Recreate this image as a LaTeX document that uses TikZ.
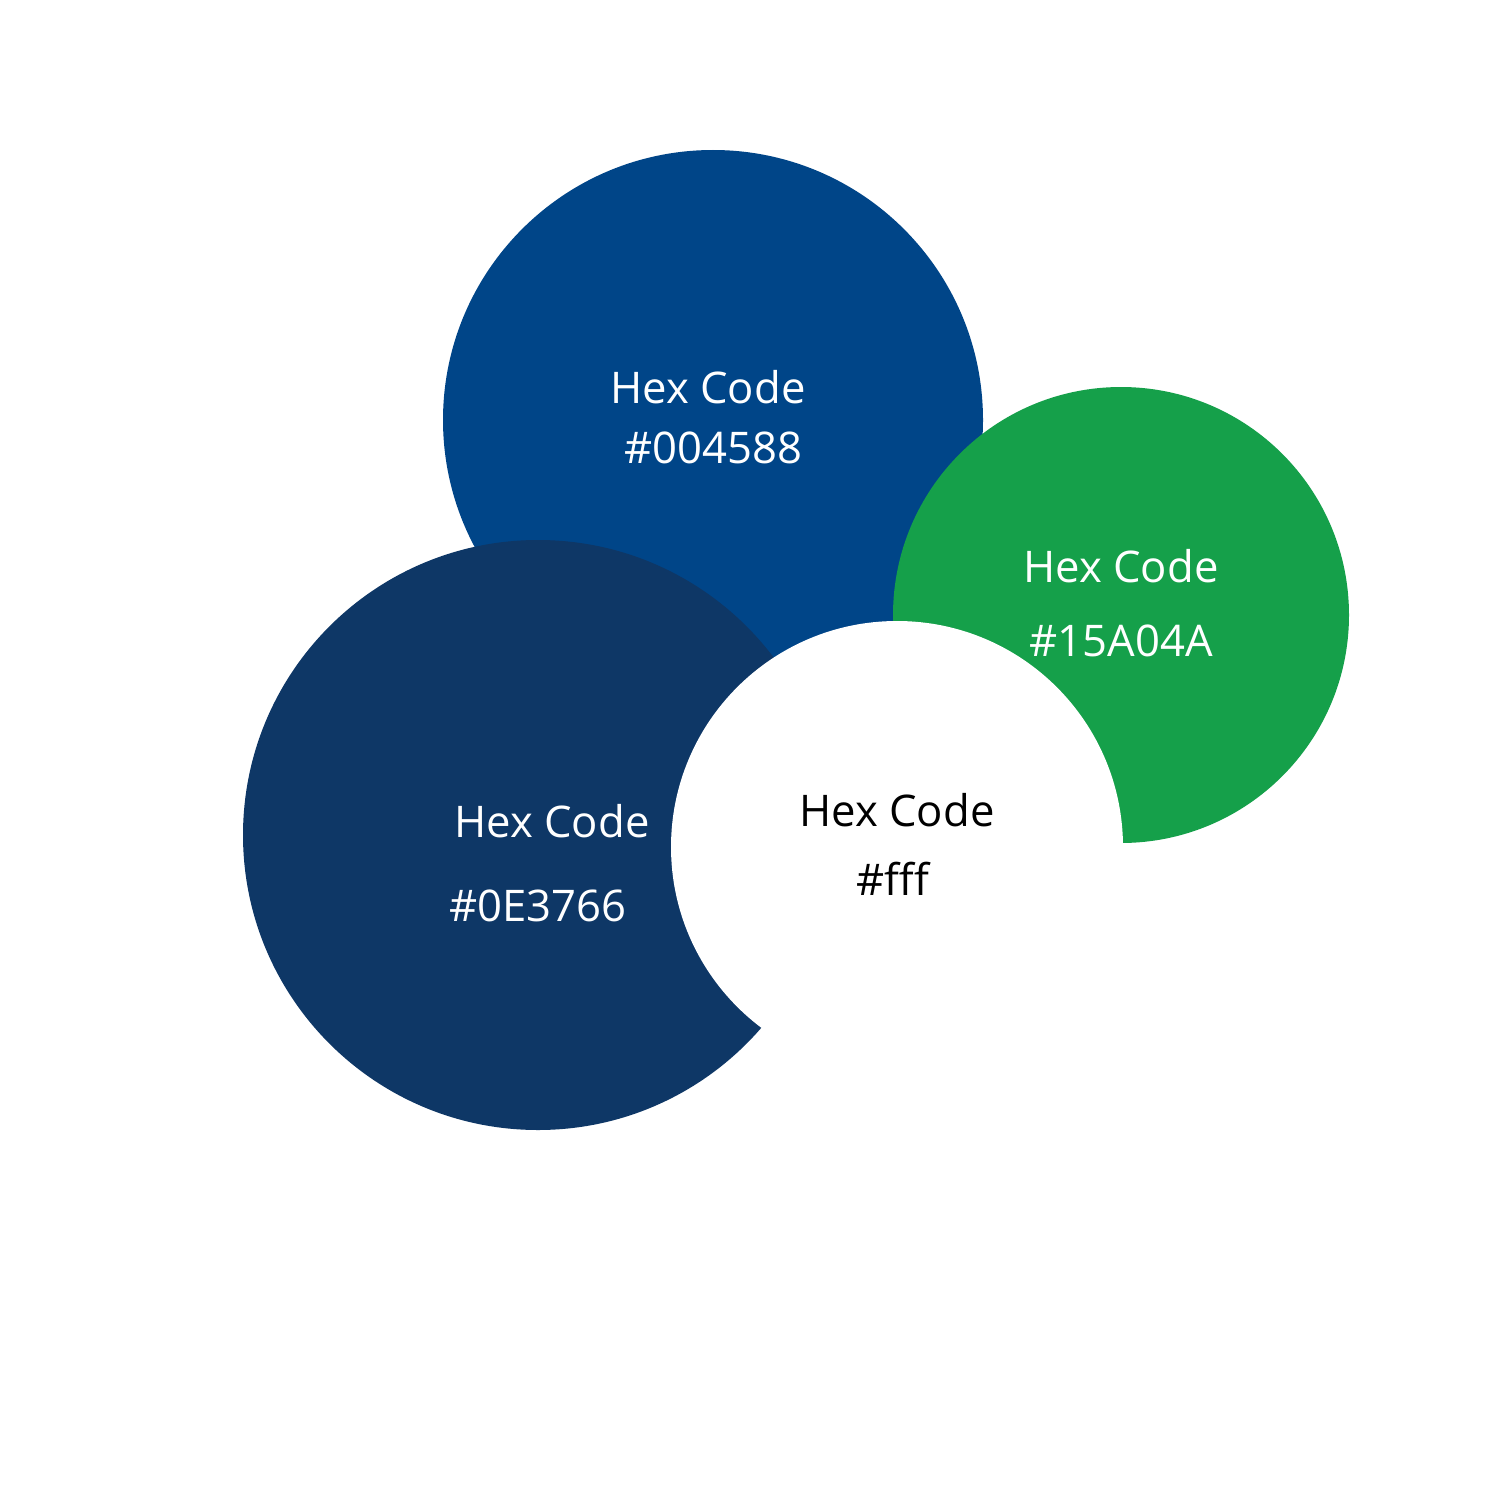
\documentclass[tikz,border=0pt]{standalone}
\usepackage{fontspec}
\setmainfont{Open Sans}
\definecolor{cblue}{HTML}{004588}
\definecolor{cgreen}{HTML}{15A04A}
\definecolor{cdark}{HTML}{0E3766}
\begin{document}
\begin{tikzpicture}[x=0.01cm,y=-0.01cm,
  lbl/.style={anchor=base,inner sep=0pt,font=\fontsize{12.4}{15}\selectfont}]
\useasboundingbox[fill=white] (0,0) rectangle (1500,1500);
\fill[cblue] (713,420) circle[radius=270];
\fill[cgreen] (1121,615) circle[radius=228];
\fill[cdark] (538,835) circle[radius=295];
\fill[white] (897,847) circle[radius=226];
\node[lbl,text=white] (b1) at (708,403) {Hex Code};
\node[lbl,text=white] (b2) at (713,463) {\#004588};
\node[lbl,text=white] (g1) at (1121,582) {Hex Code};
\node[lbl,text=white] (g2) at (1121,656) {\#15A04A};
\node[lbl,text=white] (d1) at (552,837) {Hex Code};
\node[lbl,text=white] (d2) at (538,921) {\#0E3766};
\node[lbl,text=black] (w1) at (897,826) {Hex Code};
\node[lbl,text=black] (w2) at (893,895) {\#fff};
\end{tikzpicture}
\end{document}
